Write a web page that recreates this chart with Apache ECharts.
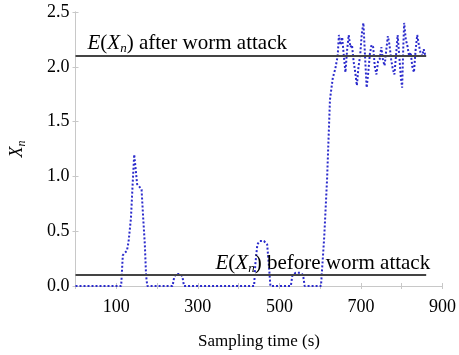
<!DOCTYPE html>
<html><head><meta charset="utf-8">
<script src="https://cdn.jsdelivr.net/npm/echarts@6/dist/echarts.min.js"></script>
<style>html,body{margin:0;padding:0;background:#fff}#c{width:459px;height:355px}</style>
</head><body><div id="c"></div>
<script>
const times = [0,20,40,60,80,100,112,116,120,126,130,136,140,144,148,151,158,162,166,170,173,176,200,220,238,242,246,256,262,266,300,340,380,420,438,441,446,452,462,470,474,478,500,528,532,540,552,558,562,580,602,610,617,624,631,637,643,646,650,654,658,662,666,670,674,678,682,686,690,694,698,702,706,710,714,718,722,726,730,734,738,742,746,750,754,758,762,766,770,774,778,782,786,790,794,798,801,804,806,810,814,818,822,826,830,834,838,842,846,850,854,858];
const values = [0,0,0,0,0,0,0,0.28,0.3,0.32,0.4,0.62,0.92,1.2,1.05,0.93,0.9,0.88,0.62,0.38,0.1,0,0,0,0,0.08,0.11,0.11,0.09,0,0,0,0,0,0,0.2,0.38,0.41,0.41,0.38,0.2,0,0,0,0.1,0.12,0.12,0.1,0,0,0,0.45,0.98,1.7,1.9,1.98,2.1,2.29,2.2,2.27,2.1,1.95,2.15,2.29,2.18,2.2,2.05,1.95,1.83,2.0,2.1,2.3,2.4,2.1,1.81,1.95,2.12,2.2,2.18,2.0,1.93,2.05,2.07,2.18,2.06,2.01,2.15,2.28,2.2,2.07,1.98,1.93,2.1,2.29,2.1,1.9,1.81,2.2,2.4,2.25,2.19,2.1,2.13,2.0,1.95,2.15,2.29,2.2,2.13,2.1,2.16,2.1];
const meanAfter = 2.1;
const meanBefore = 0.1;
const meanStart = 0, meanEnd = 860;
const xLabels = [100, 300, 500, 700, 900];
const yLabels = [0, 0.5, 1.0, 1.5, 2.0, 2.5];

const serif = 'Liberation Serif';
const rich = {
  i: {fontStyle: 'italic', fontFamily: serif, fontSize: 21, color: '#000'},
  s: {fontStyle: 'italic', fontFamily: serif, fontSize: 13, color: '#000', padding: [10, 0, 0, 0]},
  t: {fontFamily: serif, fontSize: 21, color: '#000'}
};
const richY = {
  i: {fontStyle: 'italic', fontFamily: serif, fontSize: 18, color: '#000'},
  s: {fontStyle: 'italic', fontFamily: serif, fontSize: 12, color: '#000', padding: [9, 0, 0, 0]}
};
const frame = '#c8c8c8';
const chart = echarts.init(document.getElementById('c'));
const xCommon = {type: 'value', min: 0, max: 900, interval: 100,
  axisLine: {show: true, lineStyle: {color: frame}},
  axisTick: {show: true, inside: true, length: 3, lineStyle: {color: frame}},
  splitLine: {show: false}};
const yCommon = {type: 'value', min: 0, max: 2.5, interval: 0.5,
  axisLine: {show: true, lineStyle: {color: frame}},
  axisTick: {show: true, inside: true, length: 3, lineStyle: {color: frame}},
  splitLine: {show: false}};
chart.setOption({
  animation: false,
  grid: {left: 74, right: 10, top: 12, bottom: 66},
  xAxis: [
    Object.assign({}, xCommon, {position: 'bottom',
      axisLabel: {fontFamily: serif, fontSize: 18, color: '#000', margin: 12,
        formatter: v => xLabels.includes(v) ? String(v) : ''},
      name: 'Sampling time (s)', nameLocation: 'middle', nameGap: 47,
      nameTextStyle: {fontFamily: serif, fontSize: 17, color: '#000'}}),
    Object.assign({}, xCommon, {position: 'top', axisLabel: {show: false}})
  ],
  yAxis: [
    Object.assign({}, yCommon, {position: 'left',
      axisLabel: {fontFamily: serif, fontSize: 18, color: '#000', margin: 6,
        formatter: v => yLabels.includes(v) ? v.toFixed(1) : ''},
      name: '{i|X}{s|n}', nameLocation: 'middle', nameGap: 48, nameRotate: 90,
      nameTextStyle: {rich: richY}}),
    Object.assign({}, yCommon, {position: 'right', axisLabel: {show: false}})
  ],
  series: [
    {type: 'line', xAxisIndex: 0, yAxisIndex: 0, symbol: 'none',
      data: times.map((t, k) => [t, values[k]]),
      lineStyle: {color: '#2b2bcc', width: 2, type: [2, 2]}, z: 3},
    {type: 'line', xAxisIndex: 0, yAxisIndex: 0, symbol: 'none', data: [],
      markLine: {silent: true, symbol: 'none',
        lineStyle: {color: '#444', width: 2, type: 'solid'},
        data: [
          [{coord: [meanStart, meanAfter], label: {show: true, position: 'insideStartTop', distance: [12, 1],
              formatter: '{i|E}{t|(}{i|X}{s|n}{t|) after worm attack}', rich: rich}},
           {coord: [meanEnd, meanAfter]}],
          [{coord: [meanStart, meanBefore], label: {show: true, position: 'insideEndTop', distance: [-4, 0],
              formatter: '{i|E}{t|(}{i|X}{s|n}{t|) before worm attack}', rich: rich}},
           {coord: [meanEnd, meanBefore]}]
        ]}, z: 2}
  ]
});
</script></body></html>
